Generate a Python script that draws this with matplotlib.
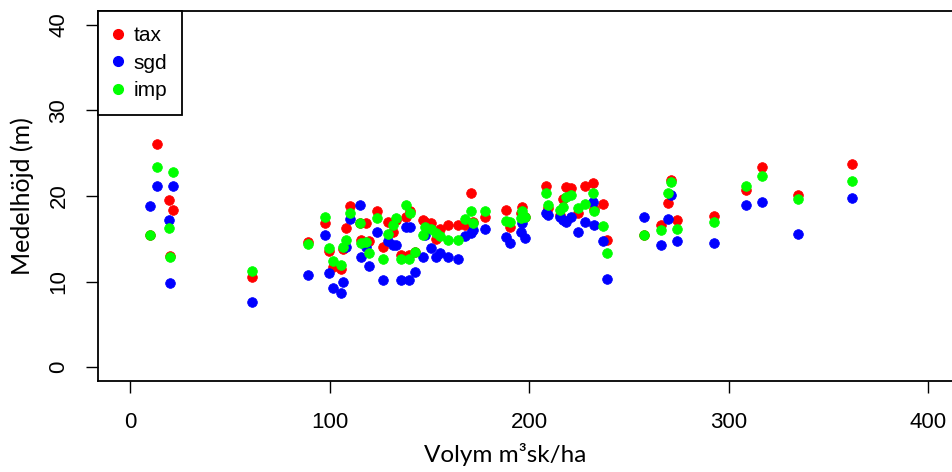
import matplotlib
matplotlib.use("Agg")
import matplotlib.pyplot as plt
from matplotlib.lines import Line2D

# volume per stand (m3sk/ha) and mean height estimates (m) from three methods
volym = [10.1, 13.4, 19.5, 20.0, 21.5, 61.2, 89.0, 97.8, 99.7, 101.5,
         105.9, 106.5, 108.0, 110.0, 115.0, 115.5, 118.3, 120.0, 123.8, 126.7,
         129.2, 131.7, 133.4, 136.0, 138.4, 140.0, 140.5, 142.6, 146.8, 147.6,
         151.0, 153.5, 155.1, 159.3, 164.3, 167.7, 171.0, 171.8, 177.7, 188.6,
         190.2, 196.1, 196.6, 197.7, 208.5, 209.4, 215.3, 216.9, 218.6, 221.1,
         224.5, 227.8, 232.0, 232.5, 237.0, 239.0, 257.4, 265.9, 269.6, 270.8,
         274.1, 292.5, 308.5, 316.5, 334.7, 361.5]
tax = [15.5, 26.1, 19.5, 13.0, 18.4, 10.6, 14.6, 16.8, 13.6, 11.7,
       11.5, 13.8, 16.3, 18.8, 16.9, 14.9, 16.8, 14.7, 18.3, 14.1,
       17.0, 15.8, 17.2, 13.1, 17.6, 13.1, 18.3, 13.5, 17.2, 17.0,
       16.8, 15.0, 16.1, 16.6, 16.6, 16.6, 20.3, 17.0, 17.6, 18.4,
       16.4, 18.0, 18.7, 17.6, 21.2, 18.6, 17.8, 19.7, 21.1, 20.9,
       18.0, 21.2, 21.5, 18.5, 19.1, 14.9, 15.4, 16.6, 19.2, 21.9,
       17.2, 17.7, 20.7, 23.4, 20.1, 23.7]
sgd = [18.8, 21.2, 17.2, 9.9, 21.2, 7.6, 10.8, 15.4, 11.0, 9.3,
       8.7, 10.0, 14.0, 17.3, 18.9, 12.9, 14.1, 11.8, 15.8, 10.2,
       14.7, 14.3, 14.3, 10.2, 16.4, 10.2, 16.4, 11.1, 12.9, 15.5,
       13.9, 12.9, 13.3, 12.9, 12.6, 15.3, 15.7, 16.0, 16.1, 15.2,
       14.5, 15.8, 16.9, 15.1, 18.0, 17.8, 17.6, 17.2, 17.0, 17.6,
       15.8, 17.0, 19.3, 16.6, 14.7, 10.3, 17.6, 14.3, 17.3, 20.1,
       14.8, 14.5, 19.0, 19.3, 15.6, 19.8]
imp = [15.5, 23.4, 16.3, 12.9, 22.8, 11.3, 14.4, 17.5, 13.9, 12.4,
       12.0, 14.1, 14.9, 18.0, 16.9, 14.5, 14.6, 13.3, 17.4, 12.7,
       15.6, 16.6, 17.4, 12.6, 18.9, 12.6, 18.0, 13.5, 15.4, 16.4,
       16.2, 15.7, 15.3, 14.9, 14.9, 17.3, 18.2, 16.9, 18.2, 17.1,
       17.0, 17.4, 18.2, 17.6, 20.4, 19.0, 18.4, 18.7, 19.9, 20.1,
       18.6, 19.1, 20.4, 18.2, 16.5, 13.4, 15.4, 16.0, 20.4, 21.6,
       16.2, 17.0, 21.2, 22.3, 19.6, 21.7]

series = [("tax", tax, "#ff0000"), ("sgd", sgd, "#0000ff"), ("imp", imp, "#00ff00")]

plt.rcParams['font.family'] = ['Liberation Sans', 'DejaVu Sans']

fig = plt.figure(figsize=(9.52, 4.72), dpi=100)
ax = fig.add_axes([98 / 952, 91 / 472, 862.4 / 952, 370 / 472])

for name, vals, col in series:
    ax.plot(volym, vals, 'o', color=col, ms=7, mec=col, mew=0.5, label=name)

ax.set_xlim(-16, 416)
ax.set_ylim(-1.6, 41.6)
ax.set_xticks([0, 100, 200, 300, 400])
ax.set_yticks([0, 10, 20, 30, 40])
ax.tick_params(direction='out', length=8.5, width=1, labelsize=16)
ax.tick_params(axis='x', pad=14)
ax.tick_params(axis='y', pad=12)
for lab in ax.get_yticklabels():
    lab.set_rotation(90)
    lab.set_va('center')
for sp in ax.spines.values():
    sp.set_linewidth(1.3)

ax.set_xlabel("Volym m³sk/ha", family='Lato', fontsize=17.5)
ax.xaxis.set_label_coords((505 - 98) / 862.4, -62 / 370)
ax.set_ylabel("Medelhöjd (m)", family='Lato', fontsize=18)
ax.yaxis.set_label_coords(-64 / 862.4, 0.5)

handles = [Line2D([], [], ls='none', marker='o', ms=7, color=c) for _, _, c in series]
leg = ax.legend(handles, [s[0] for s in series], loc='upper left', borderaxespad=0,
                fancybox=False, edgecolor='black', framealpha=1, fontsize=15,
                handlelength=0.5, handletextpad=0.5, labelspacing=0.42,
                borderpad=0.72)
leg.get_frame().set_linewidth(1.3)

fig.savefig("out.png", dpi=100)
